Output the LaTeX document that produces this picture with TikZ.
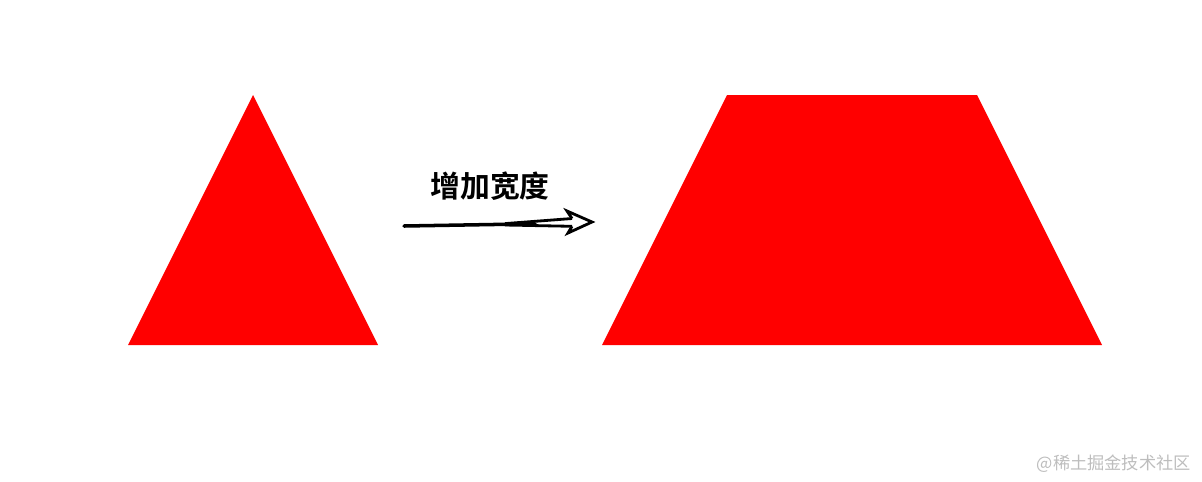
\documentclass[tikz,border=0pt]{standalone}
\usepackage{fontspec}
\usepackage{xcolor}
\usepackage{tikz}
\usetikzlibrary{calc}
\usetikzlibrary{positioning}
\newfontfamily\cjk{Noto Sans CJK SC}
\newfontfamily\cjkbold{Noto Sans CJK SC Bold}
\definecolor{shapered}{HTML}{FF0000}
\definecolor{markgray}{HTML}{BDBDBD}
\begin{document}
\begin{tikzpicture}[x=0.02cm,y=-0.02cm]
	\useasboundingbox (0,0) rectangle (1202,481);
	% triangle
	\fill[shapered] (253,95) -- (378,345) -- (128,345) -- cycle;
	% trapezoid
	\fill[shapered] (727,95) -- (977,95) -- (1102,345) -- (602,345) -- cycle;
	\node (label) at (490,186) {\cjkbold\fontsize{17}{20}\selectfont 增加宽度};
	% arrow
	\coordinate (start) at (404,226);
	\coordinate (tip) at (592,222);
	\draw[line width=2pt,line cap=round] (start) -- (535,223.8);
	\draw[line width=1.6pt] (505,223.6) -- (572,218.5);
	\draw[line width=1.6pt] (505,225) -- (572,226.3);
	\draw[line width=1.6pt,line join=miter] (572,218.5) -- (567,211) -- (tip) -- (568,233) -- (572,226.3);
	\node[anchor=east,text=markgray] (mark) at (1197,464) {\cjk\fontsize{9.8}{12}\selectfont @稀土掘金技术社区};
\end{tikzpicture}
\end{document}
